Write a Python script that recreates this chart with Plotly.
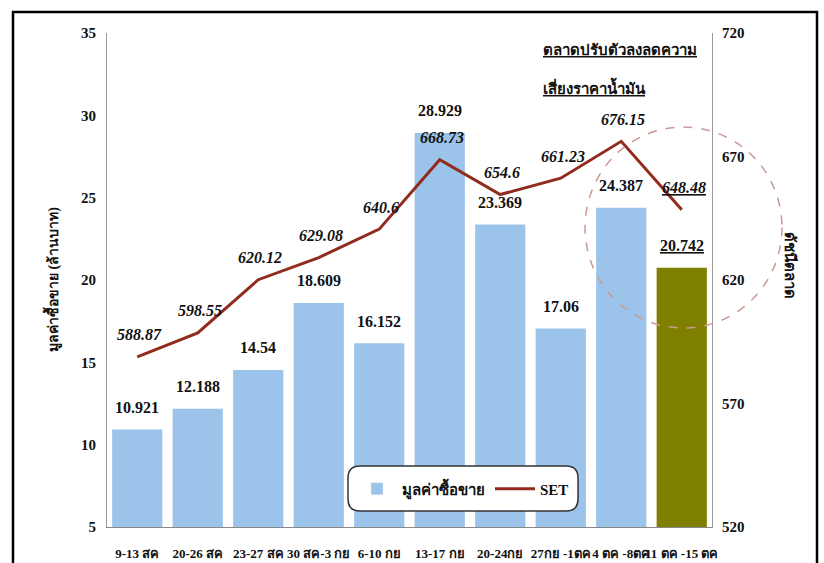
import plotly.graph_objects as go

categories = ["9-13 สค", "20-26 สค", "23-27 สค", "30 สค-3 กย", "6-10 กย",
              "13-17 กย", "20-24กย", "27กย -1ตค", "4 ตค -8ตค", "11 ตค -15 ตค"]
turnover = [10.921, 12.188, 14.54, 18.609, 16.152, 28.929, 23.369, 17.06, 24.387, 20.742]
set_index = [588.87, 598.55, 620.12, 629.08, 640.6, 668.73, 654.6, 661.23, 676.15, 648.48]
left_ticks = [5, 10, 15, 20, 25, 30, 35]
right_ticks = [520, 570, 620, 670, 720]

BLUE = "#9cc3ea"
OLIVE = "#7f7f00"
RED = "#912b1d"
SERIF = "Liberation Serif, Times New Roman, serif"

bar_colors = [BLUE] * (len(categories) - 1) + [OLIVE]

fig = go.Figure()
fig.add_trace(go.Bar(x=categories, y=[v - 5 for v in turnover], base=5,
                     name="มูลค่าซื้อขาย", marker=dict(color=bar_colors, line=dict(width=0)),
                     showlegend=False, hoverinfo="skip"))
# legend proxy for bars (blue)
fig.add_trace(go.Bar(x=[None], y=[None], name="<b>มูลค่าซื้อขาย</b>", marker=dict(color=BLUE)))
fig.add_trace(go.Scatter(x=categories, y=set_index, name="<b>SET</b>", yaxis="y2",
                         mode="lines", line=dict(color=RED, width=3)))

annotations = []
for i, (c, v) in enumerate(zip(categories, turnover)):
    txt = f"<b>{v}</b>"
    if i == len(categories) - 1:
        txt = f"<u><b>{v}</b></u>"
    annotations.append(dict(x=c, y=v, xref="x", yref="y", text=txt, showarrow=False,
                            yshift=22, font=dict(family=SERIF, size=16, color="#111"),
                            yanchor="middle"))
for i, (c, v) in enumerate(zip(categories, set_index)):
    txt = f"<b><i>{v}</i></b>"
    if i == len(categories) - 1:
        txt = f"<u><b><i>{v}</i></b></u>"
    annotations.append(dict(x=c, y=v, xref="x", yref="y2", text=txt, showarrow=False,
                            yshift=22, xshift=2,
                            font=dict(family=SERIF, size=16, color="#111"),
                            yanchor="middle"))

annotations.append(dict(x=(541 - 107) / 605, y=(527 - 50) / 494, xref="paper", yref="paper",
                        xanchor="left", yanchor="middle", showarrow=False,
                        text="<u><b>ตลาดปรับตัวลงลดความ</b></u>",
                        font=dict(family=SERIF, size=15, color="#111")))
annotations.append(dict(x=(541 - 107) / 605, y=(527 - 87) / 494, xref="paper", yref="paper",
                        xanchor="left", yanchor="middle", showarrow=False,
                        text="<u><b>เสี่ยงราคาน้ำมัน</b></u>",
                        font=dict(family=SERIF, size=15, color="#111")))
annotations.append(dict(x=(40 - 107) / 605, y=(527 - 280) / 494, xref="paper", yref="paper",
                        showarrow=False, textangle=-90, text="<b>มูลค่าซื้อขาย (ล้านบาท)</b>",
                        font=dict(family=SERIF, size=14, color="#111")))
annotations.append(dict(x=(800 - 107) / 605, y=(527 - 265) / 494, xref="paper", yref="paper",
                        showarrow=False, textangle=90, text="<b>ดัชนีตลาด</b>",
                        font=dict(family=SERIF, size=15, color="#111")))

# legend rounded box
lx0, lx1 = (348 - 107) / 605, (578 - 107) / 605
ly0, ly1 = (527 - 511) / 494, (527 - 466) / 494
rx, ry = 12 / 605, 12 / 494
legend_path = (f"M {lx0+rx},{ly0} L {lx1-rx},{ly0} Q {lx1},{ly0} {lx1},{ly0+ry} "
               f"L {lx1},{ly1-ry} Q {lx1},{ly1} {lx1-rx},{ly1} L {lx0+rx},{ly1} "
               f"Q {lx0},{ly1} {lx0},{ly1-ry} L {lx0},{ly0+ry} Q {lx0},{ly0} {lx0+rx},{ly0} Z")

shapes = [
    dict(type="path", path=legend_path, xref="paper", yref="paper",
         line=dict(color="#333", width=1.5), fillcolor="white", layer="above"),
    dict(type="circle", xref="paper", yref="paper",
         x0=(585 - 107) / 605, x1=(782 - 107) / 605,
         y0=(527 - 328) / 494, y1=(527 - 127) / 494,
         line=dict(color="#c99a92", width=1.5, dash="dash"), layer="above"),
    dict(type="rect", xref="paper", yref="paper",
         x0=(13 - 107) / 605, x1=(817 - 107) / 605,
         y0=(527 - 600) / 494, y1=(527 - 12) / 494,
         line=dict(color="black", width=2.5)),
]

fig.update_layout(
    width=824, height=563,
    margin=dict(l=107, r=112, t=33, b=36, autoexpand=False),
    paper_bgcolor="white", plot_bgcolor="white",
    bargap=0.17,
    showlegend=True,
    legend=dict(orientation="h", x=(463 - 107) / 605, y=(527 - 489) / 494,
                xanchor="center", yanchor="middle", bgcolor="rgba(0,0,0,0)",
                font=dict(family=SERIF, size=15, color="#111"),
                traceorder="normal", itemwidth=40),
    xaxis=dict(type="category", tickangle=0, showline=True, linecolor="#888", linewidth=1,
               tickfont=dict(family=SERIF, size=13, color="#111", weight="bold"), ticks="",
               showgrid=False, ticklabelstandoff=14, automargin=False),
    yaxis=dict(range=[5, 35], tickvals=left_ticks, showline=True, linecolor="#999",
               linewidth=1, showgrid=False, zeroline=False, ticks="",
               tickfont=dict(family=SERIF, size=15, color="#111", weight="bold"),
               ticklabelstandoff=7, automargin=False),
    yaxis2=dict(range=[520, 720], tickvals=right_ticks, overlaying="y", side="right",
                showline=True, linecolor="#999", linewidth=1, showgrid=False,
                zeroline=False, ticks="", automargin=False,
                tickfont=dict(family=SERIF, size=15, color="#111", weight="bold"),
                ticklabelstandoff=6),
    annotations=annotations,
    shapes=shapes,
)
fig.layout.font = dict(family=SERIF)
fig.write_html("out.html", config={"displayModeBar": False},
               post_script="document.body.style.margin='0px';")
